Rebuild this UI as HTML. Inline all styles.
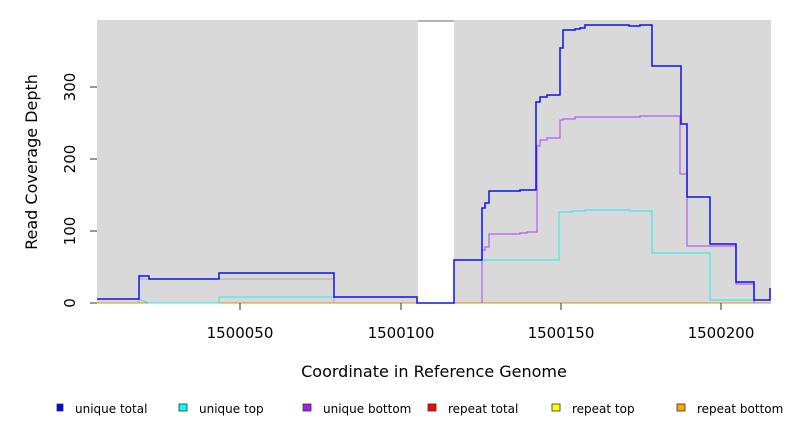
<!DOCTYPE html>
<html><head><meta charset="utf-8"><style>
body{margin:0;background:#fff;width:792px;height:432px;overflow:hidden}
text{font-family:"DejaVu Sans","Liberation Sans",sans-serif;fill:#000}
</style></head><body>
<svg width="792" height="432" viewBox="0 0 792 432">
<rect x="97" y="20" width="321" height="283" fill="#d9d9d9"/>
<rect x="454" y="20" width="317" height="283" fill="#d9d9d9"/>
<line x1="418" y1="21" x2="454" y2="21" stroke="#888" stroke-width="1.2"/>
<line x1="97" y1="303" x2="771" y2="303" stroke="#e08a2a" stroke-width="1"/>
<polyline fill="none" stroke="#aaa" stroke-width="1" points="139,303 139,279 334,279 334,303"/>
<polyline fill="none" stroke="#30e8e8" stroke-width="1" points="97,299 139,299 149,303 219,303 219,297 334,297 334,297 417,297"/>
<polyline fill="none" stroke="#b060f0" stroke-width="1.2" points="482,303 482,250 485,250 485,247 489,247 489,234 520,234 520,233 527,233 527,232 537,232 537,146 540,146 540,140 547,140 547,138 560,138 560,120 563,120 563,119 575,119 575,117 640,117 640,116 680,116 680,174 687,174 687,246 736,246 736,284 754,284 754,303"/>
<polyline fill="none" stroke="#40e8e8" stroke-width="1.2" points="454,260 559,260 559,212 572,212 572,211 585,211 585,210 630,210 630,211 652,211 652,253 710,253 710,300 754,300"/>
<polyline fill="none" stroke="#1010f0" stroke-width="1.5" points="97,299 139,299 139,276 149,276 149,279 219,279 219,273 334,273 334,297 417,297 417,303 454,303 454,260 482,260 482,208 485,208 485,203 489,203 489,191 520,191 520,190 536,190 536,102 540,102 540,97 547,97 547,95 560,95 560,48 563,48 563,30 575,30 575,29 580,29 580,28 585,28 585,25 629,25 629,26 640,26 640,25 652,25 652,66 681,66 681,124 687,124 687,197 710,197 710,244 736,244 736,282 754,282 754,300 770,300 770,288"/>
<g stroke="#333" stroke-width="1">
<line x1="240" y1="303" x2="240" y2="310"/><line x1="401" y1="303" x2="401" y2="310"/>
<line x1="561" y1="303" x2="561" y2="310"/><line x1="721" y1="303" x2="721" y2="310"/>
<line x1="90" y1="303" x2="97" y2="303"/><line x1="90" y1="231" x2="97" y2="231"/>
<line x1="90" y1="159" x2="97" y2="159"/><line x1="90" y1="87" x2="97" y2="87"/>
</g>
<g font-size="15" text-anchor="middle">
<text x="240" y="338">1500050</text><text x="401" y="338">1500100</text>
<text x="561" y="338">1500150</text><text x="721" y="338">1500200</text>
<text transform="translate(75,303) rotate(-90)">0</text>
<text transform="translate(75,231) rotate(-90)">100</text>
<text transform="translate(75,159) rotate(-90)">200</text>
<text transform="translate(75,87) rotate(-90)">300</text>
<text x="434" y="377" font-size="16">Coordinate in Reference Genome</text>
<text transform="translate(37,162) rotate(-90)" font-size="16">Read Coverage Depth</text>
</g>
<g font-size="12" stroke="#333" stroke-width="0.8">
<rect x="57" y="404" width="6" height="7" fill="#0000ff"/>
<rect x="179" y="404" width="8" height="7" fill="#00ffff"/>
<rect x="303" y="404" width="8" height="7" fill="#a020f0"/>
<rect x="428" y="404" width="8" height="7" fill="#ff0000"/>
<rect x="552" y="404" width="8" height="7" fill="#ffff00"/>
<rect x="677" y="404" width="8" height="7" fill="#ffa500"/>
</g>
<g font-size="12">
<text x="75" y="413">unique total</text>
<text x="199" y="413">unique top</text>
<text x="323" y="413">unique bottom</text>
<text x="448" y="413">repeat total</text>
<text x="572" y="413">repeat top</text>
<text x="697" y="413">repeat bottom</text>
</g>
</svg>
</body></html>
